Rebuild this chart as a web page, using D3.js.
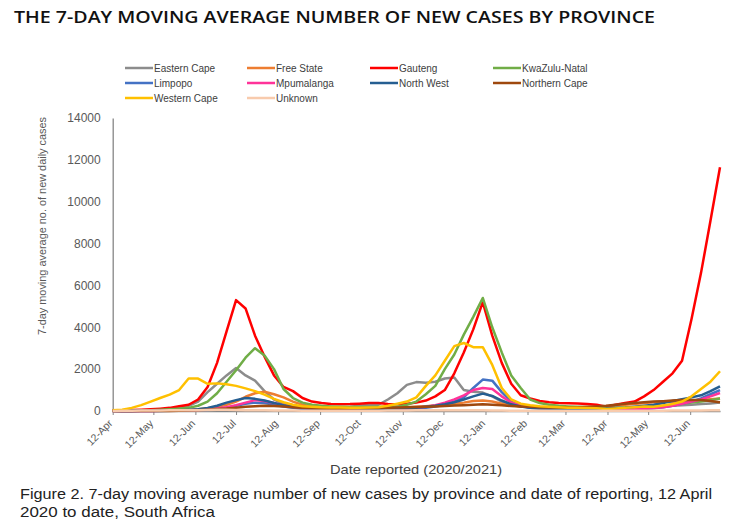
<!DOCTYPE html>
<html><head><meta charset="utf-8">
<script src="https://cdn.jsdelivr.net/npm/d3@7"></script>
<style>
body{margin:0;background:#fff;}
svg{display:block;}
</style></head>
<body>
<svg id="chart" width="750" height="528"></svg>
<script>
// ---------------- DATA ----------------
const startDate = "2020-04-12";   // first weekly observation
const stepDays = 7;               // weekly samples
const endDate = "2021-07-04";

const tickDates = ["2020-04-12","2020-05-12","2020-06-12","2020-07-12","2020-08-12","2020-09-12",
  "2020-10-12","2020-11-12","2020-12-12","2021-01-12","2021-02-12","2021-03-12","2021-04-12",
  "2021-05-12","2021-06-12"];
const yTicks = [0,2000,4000,6000,8000,10000,12000,14000];

const provinces = ["Eastern Cape","Free State","Gauteng","KwaZulu-Natal","Limpopo","Mpumalanga",
  "North West","Northern Cape","Western Cape","Unknown"];
const colors = ["#8c8c8c","#ED7D31","#FF0000","#70AD47","#4472C4","#FF3399","#255E91","#9E480E","#FFC000","#F8CBAD"];

const easternCape = [10,10,15,20,30,50,80,150,250,450,
  900,1300,1700,2050,1700,1450,950,550,350,250,
  200,180,170,170,180,200,250,300,300,550,
  850,1250,1380,1350,1400,1550,1600,1000,920,880,
  700,450,300,220,180,160,150,150,140,140,
  140,140,130,140,150,170,190,210,230,250,
  280,300,330,360,400];
const freeState = [5,5,5,10,10,15,20,30,50,80,
  130,200,300,450,680,850,920,800,650,450,
  300,230,200,180,170,160,150,140,140,150,
  160,180,200,230,260,300,350,400,480,500,
  450,350,270,220,200,180,170,160,160,170,
  180,200,220,260,300,340,380,420,450,430,
  460,500,530,560,600];
const gauteng = [30,40,50,60,80,110,150,230,300,550,
  1150,2300,3800,5300,4900,3600,2600,1700,1150,950,
  620,450,380,330,320,330,350,380,380,340,
  320,350,400,500,700,1000,1800,2800,3900,5200,
  3600,2300,1300,750,600,480,420,380,370,360,
  340,300,200,300,380,450,700,1000,1400,1800,
  2400,4400,6600,9100,11650];
const kwazuluNatal = [10,15,20,30,40,60,80,110,150,250,
  450,850,1400,1950,2550,3000,2650,2000,1050,620,
  400,300,250,220,200,190,190,190,200,200,
  200,300,450,800,1200,2000,2700,3650,4500,5400,
  4000,2800,1700,1100,550,380,300,250,220,200,
  180,170,150,160,170,180,200,220,250,300,
  350,400,450,520,600];
const limpopo = [2,2,3,3,5,5,10,15,20,30,
  50,90,150,250,350,400,380,300,220,150,
  100,80,60,50,50,50,50,50,50,60,
  70,90,120,160,220,300,450,650,1100,1500,
  1450,900,450,250,160,120,100,90,80,70,
  60,60,50,60,70,80,100,130,180,250,
  350,450,600,800,1000];
const mpumalanga = [5,5,5,5,5,10,10,20,30,50,
  80,120,180,280,400,520,480,380,280,200,
  150,120,100,90,80,80,80,80,80,90,
  100,120,150,200,280,400,550,750,1000,1100,
  1050,700,400,250,180,140,120,110,100,90,
  80,70,60,70,80,90,110,140,180,250,
  350,450,550,700,860];
const northWest = [5,5,5,10,10,15,20,30,50,80,
  150,250,400,520,620,580,500,380,280,200,
  150,120,100,90,80,80,80,90,100,110,
  120,140,160,200,250,320,420,550,700,830,
  720,500,320,220,160,130,110,100,100,100,
  100,110,120,140,160,200,250,300,380,480,
  560,650,750,950,1180];
const northernCape = [2,2,2,3,3,5,5,10,20,40,
  60,90,120,160,200,230,250,240,220,180,
  150,130,120,110,110,110,120,130,140,160,
  170,180,190,200,220,240,260,280,300,320,
  300,270,240,220,200,180,170,170,170,180,
  200,220,250,300,350,380,420,450,470,500,
  520,530,520,480,420];
const westernCape = [30,60,150,280,450,620,780,1000,1550,1550,
  1300,1320,1280,1200,1080,950,780,580,420,300,
  230,200,180,170,170,160,160,170,180,250,
  350,450,650,1200,1700,2400,3100,3250,3050,3050,
  2200,1100,550,350,280,230,200,180,160,150,
  140,130,100,120,150,180,220,200,260,330,
  450,700,1050,1400,1900];
const unknown = [5,10,15,20,20,25,30,30,40,40,
  50,60,60,50,40,30,30,25,20,20,
  15,15,15,15,15,15,15,15,15,20,
  20,25,30,30,35,40,40,40,35,30,
  25,20,15,15,10,10,10,10,10,10,
  10,10,10,10,10,10,10,15,15,20,
  20,25,25,30,30];

const seriesValues = [easternCape,freeState,gauteng,kwazuluNatal,limpopo,mpumalanga,
  northWest,northernCape,westernCape,unknown];

// ---------------- CHART ----------------
const svg = d3.select("#chart");
const parse = d3.timeParse("%Y-%m-%d");
const t0 = parse(startDate);
const dates = gauteng.map((_, i) => d3.timeDay.offset(t0, i * stepDays));

const x = d3.scaleTime().domain([t0, parse(endDate)]).range([112.7, 720]);
const y = d3.scaleLinear().domain([0, 14000]).range([411, 118]);

const axisColor = "#868686";
const textColor = "#595959";

// Title
svg.append("text")
  .attr("x", 14).attr("y", 23)
  .attr("font-family", "Open Sans, sans-serif")
  .attr("font-weight", 600)
  .attr("font-size", 16)
  .attr("fill", "#111")
  .attr("textLength", 641).attr("lengthAdjust", "spacingAndGlyphs")
  .text("THE 7-DAY MOVING AVERAGE NUMBER OF NEW CASES BY PROVINCE");

// Legend
const legCols = [125, 247, 370, 493];
const legRows = [68, 83, 98];
provinces.forEach((p, i) => {
  const cx = legCols[i % 4], cy = legRows[Math.floor(i / 4)];
  const g = svg.append("g").attr("transform", `translate(${cx},${cy})`);
  g.append("line").attr("x1", 0).attr("x2", 28).attr("y1", 0).attr("y2", 0)
    .attr("stroke", colors[i]).attr("stroke-width", 2.5);
  g.append("text").attr("x", 29).attr("y", 3.5)
    .attr("font-family", "Liberation Sans, Arial, sans-serif")
    .attr("font-size", 10).attr("fill", "#404040").text(p);
});

// Y axis
const yAxis = d3.axisLeft(y).tickValues(yTicks).tickSize(0).tickPadding(12).tickFormat(d3.format("d"));
const gy = svg.append("g").attr("transform", "translate(112.7,0)").call(yAxis);
gy.select(".domain").attr("stroke", axisColor).attr("stroke-width", 1.3);
gy.selectAll("text").attr("font-family", "Liberation Sans, Arial, sans-serif")
  .attr("font-size", 12).attr("fill", textColor);

// X axis
const xAxis = d3.axisBottom(x).tickValues(tickDates.map(parse)).tickSize(4).tickSizeOuter(0)
  .tickFormat(d3.timeFormat("%d-%b"));
const gx = svg.append("g").attr("transform", "translate(0,411)").call(xAxis);
gx.select(".domain").attr("stroke", axisColor).attr("stroke-width", 1.3);
gx.selectAll(".tick line").attr("stroke", axisColor);
gx.selectAll("text")
  .attr("font-family", "Liberation Sans, Arial, sans-serif")
  .attr("font-size", 10.5).attr("fill", textColor)
  .attr("text-anchor", "end")
  .attr("dy", null).attr("y", 0)
  .attr("transform", "translate(0,13) rotate(-45)");

// Lines
const line = d3.line().x((d, i) => x(dates[i])).y(d => y(d)).curve(d3.curveLinear);
const gl = svg.append("g");
seriesValues.forEach((vals, i) => {
  gl.append("path").datum(vals)
    .attr("d", line)
    .attr("fill", "none")
    .attr("stroke", colors[i])
    .attr("stroke-width", 2.5)
    .attr("stroke-linejoin", "round");
});

// Axis titles
svg.append("text")
  .attr("transform", "translate(46,226) rotate(-90)")
  .attr("text-anchor", "middle")
  .attr("font-family", "Liberation Sans, Arial, sans-serif")
  .attr("font-size", 11).attr("fill", textColor)
  .attr("textLength", 218).attr("lengthAdjust", "spacingAndGlyphs")
  .text("7-day moving average no. of new daily cases");

svg.append("text")
  .attr("x", 330).attr("y", 474)
  .attr("font-family", "Liberation Sans, Arial, sans-serif")
  .attr("font-size", 13).attr("fill", "#404040")
  .attr("textLength", 172).attr("lengthAdjust", "spacingAndGlyphs")
  .text("Date reported (2020/2021)");

// Caption
const cap = svg.append("text")
  .attr("font-family", "Liberation Sans, Arial, sans-serif")
  .attr("font-size", 15.5).attr("fill", "#222");
cap.append("tspan").attr("x", 20).attr("y", 499)
  .attr("textLength", 692).attr("lengthAdjust", "spacingAndGlyphs")
  .text("Figure 2. 7-day moving average number of new cases by province and date of reporting, 12 April");
cap.append("tspan").attr("x", 20).attr("y", 517)
  .attr("textLength", 195).attr("lengthAdjust", "spacingAndGlyphs")
  .text("2020 to date, South Africa");
</script>
</body></html>
